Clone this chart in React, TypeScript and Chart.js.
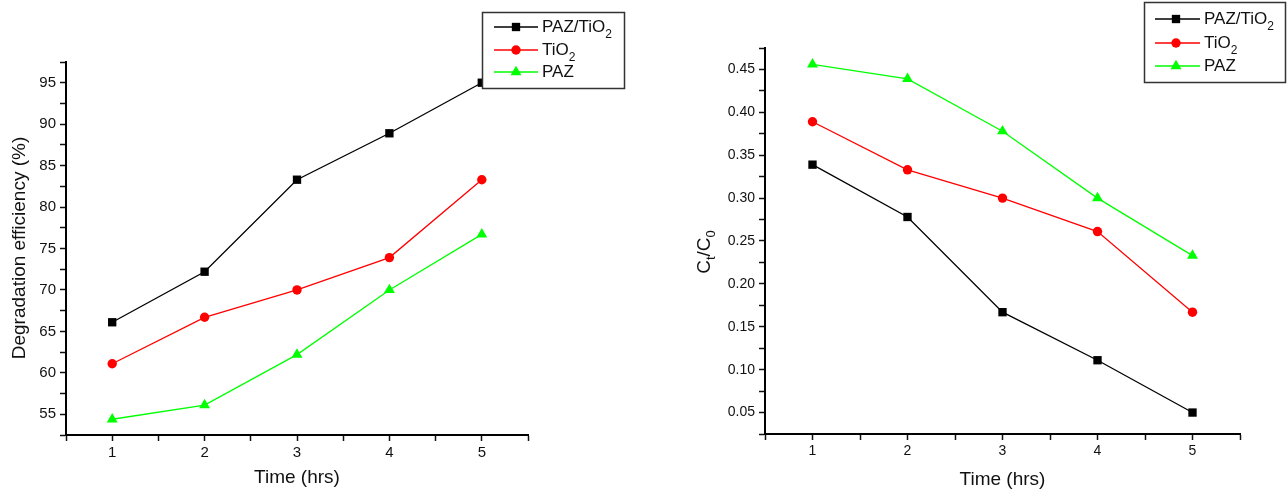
import { useEffect, useRef } from 'react';
import { Chart, registerables } from 'chart.js';

Chart.register(...registerables);

// Irradiation time (hrs)
const hours = [1, 2, 3, 4, 5];

// Degradation efficiency (%)
const effPazTiO2 = [66.1, 72.2, 83.3, 88.9, 95.0];
const effTiO2 = [61.1, 66.7, 70.0, 73.9, 83.3];
const effPaz = [54.4, 56.1, 62.2, 70.0, 76.7];

// Remaining concentration ratio Ct/C0
const ratioPazTiO2 = [0.339, 0.278, 0.167, 0.111, 0.05];
const ratioTiO2 = [0.389, 0.333, 0.3, 0.261, 0.167];
const ratioPaz = [0.456, 0.439, 0.378, 0.3, 0.233];

// Tick positions (odd indices carry labels, even indices are minor ticks)
const timeTicks = [0.5, 1, 1.5, 2, 2.5, 3, 3.5, 4, 4.5, 5, 5.5];
const effTicks = [52.5, 55, 57.5, 60, 62.5, 65, 67.5, 70, 72.5, 75, 77.5, 80, 82.5, 85, 87.5, 90, 92.5, 95, 97.5];
const ratioTicks = [0.025, 0.05, 0.075, 0.1, 0.125, 0.15, 0.175, 0.2, 0.225, 0.25, 0.275, 0.3, 0.325, 0.35, 0.375, 0.4, 0.425, 0.45, 0.475];

type Part = { text: string; sub?: boolean };

const seriesNames: Part[][] = [
  [{ text: 'PAZ/TiO' }, { text: '2', sub: true }],
  [{ text: 'TiO' }, { text: '2', sub: true }],
  [{ text: 'PAZ' }],
];
const seriesColors = ['#000000', '#ff0000', '#00ff00'];
const seriesPoints = ['rect', 'circle', 'triangle'];
const seriesRadius = [5.9, 4.7, 6.3];

const FONT = '"Liberation Sans", Arial, Helvetica, sans-serif';

function drawMarker(ctx: CanvasRenderingContext2D, style: string, x: number, y: number, r: number, color: string) {
  ctx.save();
  ctx.fillStyle = color;
  ctx.beginPath();
  if (style === 'rect') {
    const h = r * Math.SQRT1_2;
    ctx.rect(x - h, y - h, 2 * h, 2 * h);
  } else if (style === 'circle') {
    ctx.arc(x, y, r, 0, Math.PI * 2);
  } else {
    let a = 0;
    ctx.moveTo(x + Math.sin(a) * r, y - Math.cos(a) * r);
    a += (2 * Math.PI) / 3;
    ctx.lineTo(x + Math.sin(a) * r, y - Math.cos(a) * r);
    a += (2 * Math.PI) / 3;
    ctx.lineTo(x + Math.sin(a) * r, y - Math.cos(a) * r);
    ctx.closePath();
  }
  ctx.fill();
  ctx.restore();
}

function partsWidth(ctx: CanvasRenderingContext2D, parts: Part[], size: number, subSize: number) {
  let w = 0;
  for (const p of parts) {
    ctx.font = `${p.sub ? subSize : size}px ${FONT}`;
    w += ctx.measureText(p.text).width;
  }
  return w;
}

function drawParts(ctx: CanvasRenderingContext2D, parts: Part[], x: number, y: number, size: number, subSize: number, subShift: number) {
  ctx.textBaseline = 'middle';
  ctx.textAlign = 'left';
  let cx = x;
  for (const p of parts) {
    ctx.font = `${p.sub ? subSize : size}px ${FONT}`;
    ctx.fillText(p.text, cx, p.sub ? y + subShift : y);
    cx += ctx.measureText(p.text).width;
  }
}

type LegendBox = {
  left: number; top: number; right: number; bottom: number;
  lineX0: number; lineX1: number; markerX: number; textX: number; rows: number[];
};

type PanelSpec = {
  width: number;
  height: number;
  area: { left: number; top: number; right: number; bottom: number };
  values: number[][];
  yTicks: number[];
  yLabel: (v: number) => string;
  tickSize: number;
  yTitle: Part[];
  yTitlePos: { x: number; y: number };
  xTitleY: number;
  legend: LegendBox;
};

function Panel({ spec }: { spec: PanelSpec }) {
  const ref = useRef<HTMLCanvasElement | null>(null);

  useEffect(() => {
    const canvas = ref.current;
    if (!canvas) return;
    const { area, width, height } = spec;

    const overlay = {
      id: 'panelDecor',
      afterDraw(chart: any) {
        const ctx: CanvasRenderingContext2D = chart.ctx;
        const ca = chart.chartArea;
        ctx.save();
        ctx.fillStyle = '#111';
        // x-axis title
        ctx.font = `19px ${FONT}`;
        ctx.textAlign = 'center';
        ctx.textBaseline = 'middle';
        ctx.fillText('Time (hrs)', (ca.left + ca.right) / 2, spec.xTitleY);
        // y-axis title, rotated
        ctx.save();
        ctx.translate(spec.yTitlePos.x, spec.yTitlePos.y);
        ctx.rotate(-Math.PI / 2);
        const tw = partsWidth(ctx, spec.yTitle, 19, 13);
        drawParts(ctx, spec.yTitle, -tw / 2, 0, 19, 13, 6);
        ctx.restore();

        // legend
        const lg = spec.legend;
        ctx.fillStyle = '#ffffff';
        ctx.fillRect(lg.left, lg.top, lg.right - lg.left, lg.bottom - lg.top);
        ctx.strokeStyle = '#333';
        ctx.lineWidth = 1.5;
        ctx.strokeRect(lg.left, lg.top, lg.right - lg.left, lg.bottom - lg.top);
        seriesNames.forEach((name, i) => {
          const y = lg.rows[i];
          ctx.strokeStyle = seriesColors[i];
          ctx.lineWidth = 1.3;
          ctx.beginPath();
          ctx.moveTo(lg.lineX0, y);
          ctx.lineTo(lg.lineX1, y);
          ctx.stroke();
          drawMarker(ctx, seriesPoints[i], lg.markerX, y, seriesRadius[i], seriesColors[i]);
          ctx.fillStyle = '#111';
          drawParts(ctx, name, lg.textX, y, 17, 12, 8);
        });
        ctx.restore();
      },
    };

    const chart = new Chart(canvas, {
      type: 'line',
      data: {
        datasets: spec.values.map((vals, i) => ({
          label: seriesNames[i].map((p) => p.text).join(''),
          data: hours.map((h, j) => ({ x: h, y: vals[j] })),
          borderColor: seriesColors[i],
          backgroundColor: seriesColors[i],
          borderWidth: 1.3,
          pointStyle: seriesPoints[i] as any,
          pointRadius: seriesRadius[i],
          pointBackgroundColor: seriesColors[i],
          pointBorderColor: seriesColors[i],
          pointBorderWidth: 0,
          tension: 0,
          clip: false as any,
        })),
      },
      options: {
        responsive: false,
        animation: false,
        devicePixelRatio: 1,
        layout: {
          padding: { left: 0, top: area.top, right: width - area.right, bottom: 0 },
        },
        plugins: {
          legend: { display: false },
          tooltip: { enabled: false },
          title: { display: false },
        },
        scales: {
          x: {
            type: 'linear',
            min: timeTicks[0],
            max: timeTicks[timeTicks.length - 1],
            afterBuildTicks: (s: any) => {
              s.ticks = timeTicks.map((v) => ({ value: v }));
            },
            afterFit: (s: any) => {
              s.height = height - area.bottom;
            },
            ticks: {
              autoSkip: false,
              maxRotation: 0,
              padding: 3,
              color: '#111',
              font: { family: FONT, size: spec.tickSize },
              callback: (v: any, i: number) => (i % 2 === 1 ? String(v) : ''),
            },
            grid: {
              drawOnChartArea: false,
              drawTicks: true,
              tickLength: 6,
              tickWidth: 1.5,
              tickColor: '#111',
            },
            border: { display: true, color: '#000', width: 2 },
          },
          y: {
            type: 'linear',
            min: spec.yTicks[0],
            max: spec.yTicks[spec.yTicks.length - 1],
            afterBuildTicks: (s: any) => {
              s.ticks = spec.yTicks.map((v) => ({ value: v }));
            },
            afterFit: (s: any) => {
              s.width = area.left;
            },
            ticks: {
              autoSkip: false,
              padding: 4,
              color: '#111',
              font: { family: FONT, size: spec.tickSize },
              callback: (v: any, i: number) => (i % 2 === 1 ? spec.yLabel(Number(v)) : ''),
            },
            grid: {
              drawOnChartArea: false,
              drawTicks: true,
              tickLength: 6,
              tickWidth: 1.5,
              tickColor: '#111',
            },
            border: { display: true, color: '#000', width: 2 },
          },
        },
      },
      plugins: [overlay],
    } as any);

    return () => chart.destroy();
  }, [spec]);

  return (
    <canvas
      ref={ref}
      width={spec.width}
      height={spec.height}
      style={{ display: 'block', width: spec.width, height: spec.height }}
    />
  );
}

const efficiencyPanel: PanelSpec = {
  width: 640,
  height: 490,
  area: { left: 66, top: 62, right: 528, bottom: 435 },
  values: [effPazTiO2, effTiO2, effPaz],
  yTicks: effTicks,
  yLabel: (v) => String(v),
  tickSize: 15,
  yTitle: [{ text: 'Degradation efficiency (%)' }],
  yTitlePos: { x: 20, y: 248 },
  xTitleY: 478,
  legend: {
    left: 482.5, top: 12.5, right: 624.5, bottom: 88.5,
    lineX0: 494, lineX1: 538, markerX: 516, textX: 542, rows: [27, 50, 72],
  },
};

const ratioPanel: PanelSpec = {
  width: 647,
  height: 490,
  area: { left: 125, top: 48, right: 600, bottom: 434 },
  values: [ratioPazTiO2, ratioTiO2, ratioPaz],
  yTicks: ratioTicks,
  yLabel: (v) => v.toFixed(2),
  tickSize: 14,
  yTitle: [{ text: 'C' }, { text: 't', sub: true }, { text: '/C' }, { text: '0', sub: true }],
  yTitlePos: { x: 65, y: 252 },
  xTitleY: 480,
  legend: {
    left: 504.5, top: 2.5, right: 645.5, bottom: 82.5,
    lineX0: 515, lineX1: 560, markerX: 536, textX: 564, rows: [19, 43, 66],
  },
};

export default function App() {
  return (
    <div style={{ position: 'absolute', left: 0, top: 0, width: 1287, height: 490, background: '#fff' }}>
      <div style={{ position: 'absolute', left: 0, top: 0 }}>
        <Panel spec={efficiencyPanel} />
      </div>
      <div style={{ position: 'absolute', left: 640, top: 0 }}>
        <Panel spec={ratioPanel} />
      </div>
    </div>
  );
}
